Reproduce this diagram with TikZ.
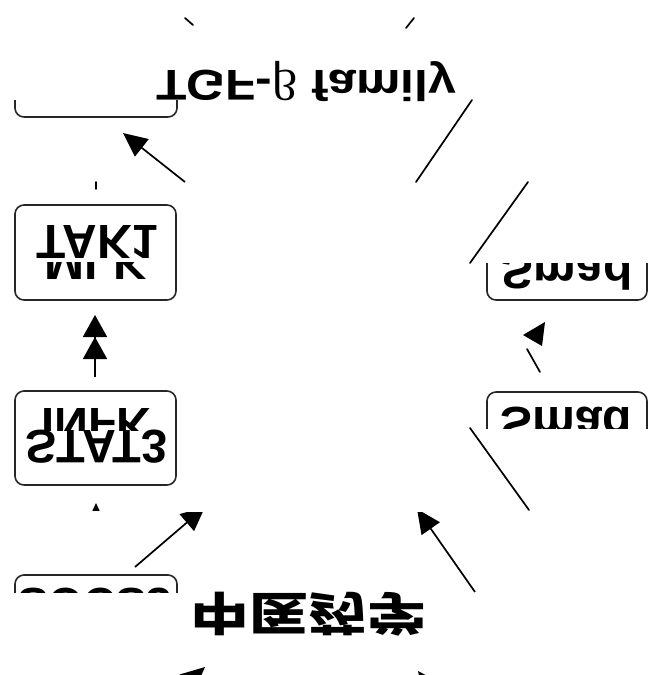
\documentclass[tikz,border=0pt]{standalone}
\usepackage{fontspec}
\setmainfont{Liberation Sans}
\newfontfamily\cjk{Noto Sans CJK SC}
\newfontfamily\grk{Liberation Serif}
\usetikzlibrary{arrows.meta}
\newcommand{\flipt}[1]{\scalebox{1}[-1]{#1}}
\begin{document}
\begin{tikzpicture}[x=1pt,y=-1pt,
  box/.style={draw=black!85, line width=1.6pt, rounded corners=9pt, inner sep=0pt},
  lbl/.style={inner sep=0pt, anchor=base, font=\bfseries\fontsize{48}{56}\selectfont},
  ln/.style={line width=1.7pt, line cap=round},
  arr/.style={line width=1.7pt, -{Triangle[length=24pt,width=22pt]}},
]
\useasboundingbox (0,0) rectangle (649,675);

% --- top partial box
\begin{scope}
  \clip (0,100) rectangle (649,130);
  \node[box, minimum width=162pt, minimum height=60pt] (tgfbox) at (96,87) {};
\end{scope}
\node[inner sep=0pt, anchor=base, font=\bfseries\fontsize{43}{50}\selectfont] (tgf) at (306,70) {\scalebox{1.16}[-1]{TGF-{\grk\mdseries β} family}};

% --- ticks and lines at top
\coordinate (t1a) at (185,18); \coordinate (t1b) at (193,25);
\coordinate (t2a) at (406,28); \coordinate (t2b) at (414,18);
\draw[ln] (t1a) -- (t1b);
\draw[ln] (t2a) -- (t2b);
\coordinate (l1a) at (472,100); \coordinate (l1b) at (416,182);
\draw[ln] (l1a) -- (l1b);
\coordinate (l2a) at (528,182); \coordinate (l2b) at (470,263);
\draw[ln] (l2a) -- (l2b);
\coordinate (k1a) at (96,182); \coordinate (k1b) at (96,189);
\draw[ln] (k1a) -- (k1b);

% --- arrow to top box
\coordinate (a1s) at (185,182); \coordinate (a1e) at (123,133);
\draw[arr] (a1s) -- (a1e);

% --- TAK1 box
\node[box, minimum width=161pt, minimum height=95pt] (takbox) at (95.5,252.5) {};
\begin{scope}
  \clip (18,262) rectangle (173,297);
  \node[lbl] (mlk) at (96,246) {\flipt{MLK}};
\end{scope}
\node[lbl] (tak) at (97.5,225) {\flipt{TAK1}};

% --- double arrow
\coordinate (d1s) at (95,377); \coordinate (d1e) at (95,315);
\draw[line width=1.7pt, -{Triangle[length=22pt,width=24pt] Triangle[length=22pt,width=24pt]}] (d1s) -- (d1e);

% --- STAT3 box
\node[box, minimum width=161pt, minimum height=94pt] (statbox) at (95.5,438) {};
\begin{scope}
  \clip (18,395) rectangle (173,430);
  \node[lbl, font=\bfseries\fontsize{47}{56}\selectfont] (infk) at (96,408) {\flipt{INFK}};
\end{scope}
\node[lbl, font=\bfseries\fontsize{47}{56}\selectfont] (stat) at (96.5,430) {\flipt{STAT3}};

% --- partial arrowhead below STAT3
\begin{scope}
  \clip (60,495) rectangle (130,510);
  \coordinate (p1s) at (96,575); \coordinate (p1e) at (96,503);
  \draw[arr] (p1s) -- (p1e);
\end{scope}

% --- right upper Smad box
\begin{scope}
  \clip (470,263) rectangle (649,310);
  \node[box, minimum width=160pt, minimum height=90pt] (smadA) at (567,255) {};
  \node[lbl] (smadAt) at (567,255) {\flipt{Smad}};
\end{scope}

% --- arrow between Smad boxes
\coordinate (s1a) at (540,372); \coordinate (s1b) at (527,349);
\draw[ln] (s1a) -- (s1b);
\coordinate (h1t) at (545,322); \coordinate (h1l) at (523,335); \coordinate (h1r) at (542,346);
\fill[black] (h1t) -- (h1l) -- (h1r) -- cycle;

% --- right lower Smad box
\begin{scope}
  \clip (470,380) rectangle (649,428);
  \node[box, minimum width=160pt, minimum height=90pt] (smadB) at (567,437) {};
  \node[lbl] (smadBt) at (566,407) {\flipt{Smad}};
\end{scope}
\coordinate (l3a) at (470,428); \coordinate (l3b) at (529,510);
\draw[ln] (l3a) -- (l3b);

% --- clipped arrows bottom
\begin{scope}
  \clip (0,512) rectangle (649,675);
  \coordinate (b1s) at (135,567); \coordinate (b1e) at (205,507);
  \draw[arr] (b1s) -- (b1e);
  \coordinate (b2s) at (475,592); \coordinate (b2e) at (417,509);
  \draw[arr] (b2s) -- (b2e);
\end{scope}

% --- SOCS3 partial box
\begin{scope}
  \clip (0,560) rectangle (200,592);
  \node[box, minimum width=162pt, minimum height=80pt] (socsbox) at (96,615) {};
  \node[lbl, font=\bfseries\fontsize{45}{54}\selectfont] (socs) at (95,588) {\flipt{SOCS3}};
\end{scope}

% --- Chinese label
\node[inner sep=0pt, font=\cjk\bfseries\fontsize{46}{50}\selectfont] (cn) at (308.5,614.5) {\scalebox{1.28}[-1]{中医药学}};

% --- bottom arrowheads
\begin{scope}
  \clip (0,655) rectangle (649,675);
  \coordinate (c1s) at (145,720); \coordinate (c1e) at (205,667);
  \draw[arr] (c1s) -- (c1e);
  \coordinate (c2s) at (466,734); \coordinate (c2e) at (418,671);
  \draw[arr] (c2s) -- (c2e);
\end{scope}
\end{tikzpicture}
\end{document}
